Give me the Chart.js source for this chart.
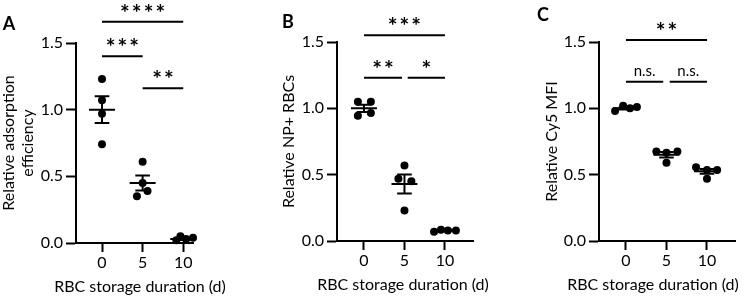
<!DOCTYPE html>
<html lang="en">
<head>
<meta charset="UTF-8">
<title>RBC storage duration</title>
<script src="https://cdn.jsdelivr.net/npm/chart.js"></script>
<style>
  body { margin: 0; background: #fff; }
  .panel { position: absolute; top: 0; height: 298px; }
</style>
</head>
<body>
<div class="panel" style="left:0;width:250px"><canvas id="chartA" width="250" height="298"></canvas></div>
<div class="panel" style="left:250px;width:250px"><canvas id="chartB" width="250" height="298"></canvas></div>
<div class="panel" style="left:500px;width:250px"><canvas id="chartC" width="250" height="298"></canvas></div>
<script>
const days = [0, 5, 10];
const yTicks = [0, 0.5, 1.0, 1.5];
const xTitle = 'RBC storage duration (d)';

// A: relative adsorption efficiency, 4 replicates per day
const adsorptionDay0 = [1.23, 1.07, 0.97, 0.74];
const adsorptionDay5 = [0.61, 0.45, 0.39, 0.35];
const adsorptionDay10 = [0.02, 0.05, 0.03, 0.04];
const adsorptionMean = [1.00, 0.45, 0.03];
const adsorptionSem = [0.10, 0.057, 0.007];

// B: relative NP+ RBCs
const npDay0 = [1.05, 1.05, 0.945, 0.965];
const npDay5 = [0.57, 0.47, 0.45, 0.23];
const npDay10 = [0.07, 0.085, 0.08, 0.08];
const npMean = [1.00, 0.43, 0.08];
const npSem = [0.027, 0.072, 0.004];

// C: relative Cy5 MFI
const cy5Day0 = [0.98, 1.02, 1.00, 1.01];
const cy5Day5 = [0.675, 0.665, 0.675, 0.59];
const cy5Day10 = [0.555, 0.535, 0.535, 0.47];
const cy5Mean = [1.00, 0.65, 0.525];
const cy5Sem = [0.008, 0.02, 0.018];

// significance brackets (from day, to day, height, label)
const sigFromA = [0, 0, 5];
const sigToA = [10, 5, 10];
const sigYA = [1.66, 1.40, 1.16];
const sigLabelA = ['****', '***', '**'];

const sigFromB = [0, 0, 5.4];
const sigToB = [10, 4.7, 10];
const sigYB = [1.55, 1.23, 1.23];
const sigLabelB = ['***', '**', '*'];

const sigFromC = [0, 0, 5.4];
const sigToC = [10, 4.6, 10];
const sigYC = [1.515, 1.20, 1.20];
const sigLabelC = ['**', 'n.s.', 'n.s.'];

// horizontal scatter of the dots (in days)
const jitterA = [[0, 0, 0, 0], [0, 0, 0.6, -0.7], [-0.85, -0.35, 0.35, 1.2]];
const jitterB = [[-0.75, 0.85, -0.75, 0.85], [0, -0.75, 0.85, 0], [-1.35, -0.5, 0.35, 1.35]];
const jitterC = [[-1.35, -0.35, 0.5, 1.35], [-1.25, 0, 1.35, 0], [-1.35, 0, 1.25, 0]];

const FONT = 'Lato, "Open Sans", sans-serif';

function meanSemSegments(means, sems) {
  const pts = [];
  days.forEach((d, i) => {
    const m = means[i], s = sems[i];
    pts.push({x: d - 1.6, y: m}, {x: d + 1.6, y: m}, {x: d, y: null});
    pts.push({x: d, y: m - s}, {x: d, y: m + s}, {x: d, y: null});
    pts.push({x: d - 0.9, y: m + s}, {x: d + 0.9, y: m + s}, {x: d, y: null});
    pts.push({x: d - 0.9, y: m - s}, {x: d + 0.9, y: m - s}, {x: d, y: null});
  });
  return pts;
}

function sigSegments(from, to, ys) {
  const pts = [];
  from.forEach((f, i) => {
    pts.push({x: f, y: ys[i]}, {x: to[i], y: ys[i]}, {x: f, y: null});
  });
  return pts;
}

const labelPlugin = {
  id: 'labels',
  afterDatasetsDraw(chart) {
    const o = chart.options.plugins.labels;
    const {ctx} = chart;
    const xs = chart.scales.x, ys = chart.scales.y;
    ctx.save();
    ctx.fillStyle = '#000';
    ctx.textAlign = 'center';
    o.labels.forEach((lab, i) => {
      const cx = xs.getPixelForValue((o.from[i] + o.to[i]) / 2);
      const ly = ys.getPixelForValue(o.ys[i]);
      if (lab.startsWith('*')) {
        ctx.font = 'bold 23px ' + FONT;
        ctx.letterSpacing = '2px';
        ctx.textBaseline = 'alphabetic';
        ctx.fillText(lab, cx + 1, ly - 1);
      } else {
        ctx.font = '15px ' + FONT;
        ctx.letterSpacing = '0px';
        ctx.textBaseline = 'alphabetic';
        ctx.fillText(lab, cx, ly - 6);
      }
    });
    ctx.letterSpacing = '0px';
    // x axis title, wider than the axis itself
    ctx.font = '16px ' + FONT;
    ctx.textBaseline = 'middle';
    ctx.fillText(xTitle, o.titleX, o.titleY);
    ctx.font = 'bold 18px ' + FONT;
    ctx.fillText(o.letter, o.letterX, o.letterY);
    ctx.restore();
  }
};

function makePanel(id, p) {
  const dots = [];
  p.groups.forEach((vals, g) => {
    vals.forEach((v, i) => dots.push({x: days[g] + p.jitter[g][i], y: v}));
  });
  new Chart(document.getElementById(id), {
    type: 'scatter',
    data: {
      datasets: [
        {
          type: 'line', data: meanSemSegments(p.mean, p.sem),
          borderColor: '#000', borderWidth: 2, pointRadius: 0,
          spanGaps: false, clip: false, order: 0
        },
        {
          type: 'line', data: sigSegments(p.sigFrom, p.sigTo, p.sigY),
          borderColor: '#000', borderWidth: 2, pointRadius: 0,
          spanGaps: false, clip: false, order: 0
        },
        {
          data: dots, backgroundColor: '#000', borderWidth: 0,
          pointRadius: 4, clip: false, order: 1
        }
      ]
    },
    options: {
      responsive: false,
      animation: false,
      layout: {padding: {left: p.padLeft, right: p.padRight, top: p.padTop, bottom: 0}},
      plugins: {
        legend: {display: false},
        tooltip: {enabled: false},
        labels: {
          labels: p.sigLabel, from: p.sigFrom, to: p.sigTo, ys: p.sigY,
          letter: p.letter, letterX: p.letterX, letterY: p.letterY,
          titleX: p.titleX, titleY: p.titleY
        }
      },
      scales: {
        x: {
          type: 'linear', min: p.xMin, max: p.xMax,
          afterBuildTicks: s => { s.ticks = days.map(v => ({value: v})); },
          afterFit: s => { s.height = p.xHeight; },
          ticks: {color: '#000', font: {family: FONT, size: 16}, padding: 1},
          grid: {drawOnChartArea: false, drawTicks: true, tickLength: 9, tickWidth: 2, tickColor: '#000'},
          border: {color: '#000', width: 2}
        },
        y: {
          type: 'linear', min: 0, max: 1.5,
          afterBuildTicks: s => { s.ticks = yTicks.map(v => ({value: v})); },
          afterFit: s => { s.width = p.yWidth; },
          ticks: {color: '#000', font: {family: FONT, size: 16}, padding: 3, callback: v => v.toFixed(1)},
          grid: {drawOnChartArea: false, drawTicks: true, tickLength: 10, tickWidth: 2, tickColor: '#000'},
          border: {color: '#000', width: 2},
          title: {display: true, text: p.yTitle, color: '#000', font: {family: FONT, size: 16, lineHeight: 1.15}, padding: 0}
        }
      }
    },
    plugins: [labelPlugin]
  });
}

makePanel('chartA', {
  groups: [adsorptionDay0, adsorptionDay5, adsorptionDay10], jitter: jitterA,
  mean: adsorptionMean, sem: adsorptionSem,
  sigFrom: sigFromA, sigTo: sigToA, sigY: sigYA, sigLabel: sigLabelA,
  yTitle: ['Relative adsorption', 'efficiency'],
  letter: 'A', letterX: 9, letterY: 24, titleX: 140, titleY: 287,
  xMin: -3.2, xMax: 11.2, padLeft: 0, yWidth: 76, padRight: 57, padTop: 43, xHeight: 55
});
makePanel('chartB', {
  groups: [npDay0, npDay5, npDay10], jitter: jitterB,
  mean: npMean, sem: npSem,
  sigFrom: sigFromB, sigTo: sigToB, sigY: sigYB, sigLabel: sigLabelB,
  yTitle: 'Relative NP+ RBCs',
  letter: 'B', letterX: 38, letterY: 22, titleX: 153, titleY: 285,
  xMin: -3.33, xMax: 13.46, padLeft: 30, yWidth: 57, padRight: 27, padTop: 42, xHeight: 57
});
makePanel('chartC', {
  groups: [cy5Day0, cy5Day5, cy5Day10], jitter: jitterC,
  mean: cy5Mean, sem: cy5Sem,
  sigFrom: sigFromC, sigTo: sigToC, sigY: sigYC, sigLabel: sigLabelC,
  yTitle: 'Relative Cy5 MFI',
  letter: 'C', letterX: 43, letterY: 15, titleX: 153, titleY: 285,
  xMin: -3.33, xMax: 13.46, padLeft: 43, yWidth: 56, padRight: 15, padTop: 42, xHeight: 57
});
</script>
</body>
</html>
